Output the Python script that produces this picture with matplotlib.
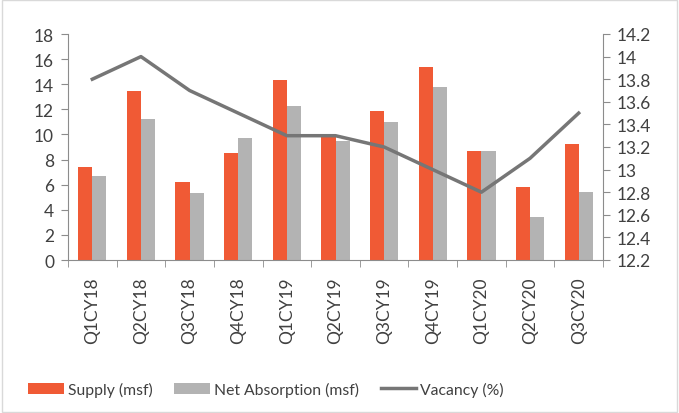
import numpy as np
import matplotlib.pyplot as plt
from matplotlib.patches import Rectangle

quarters = ['Q1CY18', 'Q2CY18', 'Q3CY18', 'Q4CY18', 'Q1CY19', 'Q2CY19',
            'Q3CY19', 'Q4CY19', 'Q1CY20', 'Q2CY20', 'Q3CY20']
supply = [7.4, 13.5, 6.2, 8.5, 14.3, 10.0, 11.9, 15.4, 8.7, 5.8, 9.2]
absorption = [6.7, 11.2, 5.3, 9.7, 12.3, 9.5, 11.0, 13.8, 8.7, 3.4, 5.4]
vacancy = [13.8, 14.0, 13.7, 13.5, 13.3, 13.3, 13.2, 13.0, 12.8, 13.1, 13.5]

plt.rcParams['font.family'] = ['Lato', 'DejaVu Sans']
text_col = '#404040'
axis_col = '#8c8c8c'

fig = plt.figure(figsize=(6.79, 4.14), dpi=100)
ax = fig.add_axes([68/679, 1 - 261/414, (603-68)/679, (261-35)/414])

x = np.arange(len(quarters))
width = 0.29
ax.bar(x - width/2, supply, width, color='#F05A35', label='Supply (msf)')
ax.bar(x + width/2, absorption, width, color='#B3B3B3', label='Net Absorption (msf)')

ax.set_xlim(-0.5, len(quarters) - 0.5)
ax.set_ylim(0, 18)
ax.set_yticks(np.arange(0, 19, 2))
ax.set_xticks(x)
ax.set_xticklabels(quarters, rotation=90)
ax.set_xticks(np.arange(-0.5, len(quarters), 1), minor=True)
ax.tick_params(axis='x', which='major', length=0, pad=12, labelsize=12.5, labelcolor=text_col)
ax.tick_params(axis='x', which='minor', length=5, color=axis_col, direction='out')
ax.tick_params(axis='y', length=5, color=axis_col, labelsize=12.5, labelcolor=text_col, pad=5)

ax2 = ax.twinx()
ax2.plot(x, vacancy, color='#767676', lw=2.5, label='Vacancy (%)')
vac_ticks = np.round(np.arange(12.2, 14.21, 0.2), 1)
ax2.set_ylim(12.2, 14.2)
ax2.set_yticks(vac_ticks)
ax2.set_yticklabels([f'{v:g}' for v in vac_ticks])
ax2.tick_params(axis='y', length=5, color=axis_col, labelsize=12.5, labelcolor=text_col, pad=5)

for a in (ax, ax2):
    a.spines['top'].set_visible(False)
    for s in ('left', 'right', 'bottom'):
        a.spines[s].set_color(axis_col)
ax.spines['right'].set_visible(False)
ax2.spines['left'].set_visible(False)
ax2.spines['bottom'].set_visible(False)

h1, l1 = ax.get_legend_handles_labels()
h2, l2 = ax2.get_legend_handles_labels()
fig.legend(h1 + h2, l1 + l2, loc='center', bbox_to_anchor=(266/679, 1 - 390/414),
           ncol=3, frameon=False, fontsize=11.3, labelcolor=text_col,
           handlelength=2.25, handleheight=0.7, columnspacing=1.4, handletextpad=0.25)

fig.patches.append(Rectangle((0.003, 0.003), 0.994, 0.994, transform=fig.transFigure,
                             fill=False, edgecolor='#d9d9d9', lw=1))

plt.savefig('out.png', dpi=100)
plt.close()
